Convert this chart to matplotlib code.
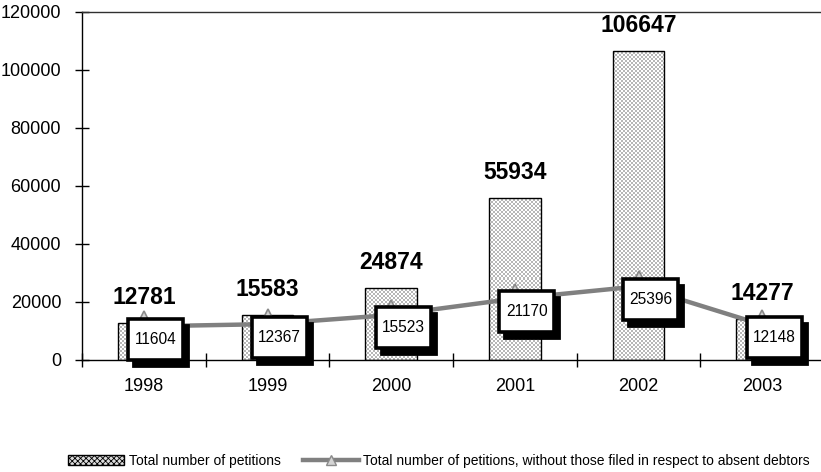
import matplotlib
matplotlib.use("Agg")
import matplotlib.pyplot as plt
import matplotlib.transforms as mtransforms
from matplotlib.patches import Rectangle, Patch
from matplotlib.lines import Line2D
import numpy as np

years = ["1998", "1999", "2000", "2001", "2002", "2003"]
total = [12781, 15583, 24874, 55934, 106647, 14277]
without_absent = [11604, 12367, 15523, 21170, 25396, 12148]
yticks = [0, 20000, 40000, 60000, 80000, 100000, 120000]
bar_label = "Total number of petitions"
line_label = "Total number of petitions, without those filed in respect to absent debtors"

plt.rcParams['font.family'] = ['Liberation Sans', 'DejaVu Sans']
plt.rcParams['hatch.linewidth'] = 0.6

fig = plt.figure(figsize=(8.21, 4.72), dpi=100)
ax = fig.add_axes([82/821, 1-360/472, (824-82)/821, (360-12)/472])

x = np.arange(len(years))
bw = 0.42
bars = ax.bar(x, total, width=bw, color='white', linewidth=0, zorder=2)
ax.bar(x, total, width=bw, fill=False, edgecolor='black', linewidth=1, zorder=2.2)

ax.set_xlim(-0.5, len(years) - 0.5)
ax.set_ylim(0, 120000)

# checker fill inside each bar
px_per_x = 742 / len(years)
px_per_y = 348 / 120000
for b in bars:
    x0, y0 = b.get_x(), b.get_y()
    w, h = b.get_width(), b.get_height()
    nx = max(1, int(round(w * px_per_x / 2)))
    ny = max(1, int(round(h * px_per_y / 2)))
    chk = (np.indices((ny, nx)).sum(axis=0) % 2).astype(float)
    img = np.where(chk[..., None] > 0, np.array([0.72, 0.72, 0.72]), np.array([1.0, 1.0, 1.0]))
    im = ax.imshow(img, extent=(x0, x0 + w, y0, y0 + h), aspect='auto',
                   interpolation='nearest', zorder=2.1)
    im.set_clip_path(b)

ax.plot(x, without_absent, color='#808080', lw=3.2, marker='^', ms=22,
        mfc='#d4d4d4', mec='#8a8a8a', mew=1.2, zorder=3)

# bar value labels
for xi, v in zip(x, total):
    ax.annotate(str(v), (xi, v), xytext=(0, 19), textcoords='offset pixels',
                ha='center', va='baseline', fontsize=16.5, fontweight='bold', zorder=5)

# boxed line labels with shadow
bw_px, bh_px = 55, 41
dx, dy = 12, -13
for xi, v in zip(x, without_absent):
    trans = mtransforms.Affine2D() + mtransforms.ScaledTranslation(xi, v, ax.transData)
    shadow = Rectangle((dx - bw_px/2 + 5, dy - bh_px/2 - 6), bw_px, bh_px, transform=trans,
                       facecolor='black', edgecolor='black', lw=2, zorder=6, clip_on=False)
    box = Rectangle((dx - bw_px/2, dy - bh_px/2), bw_px, bh_px, transform=trans,
                    facecolor='white', edgecolor='black', lw=2.6, zorder=7, clip_on=False)
    ax.add_patch(shadow)
    ax.add_patch(box)
    ax.annotate(str(v), (xi, v), xytext=(dx, dy), textcoords='offset pixels',
                ha='center', va='center', fontsize=11.2, zorder=8)

ax.set_yticks(yticks)
ax.set_yticklabels([str(t) for t in yticks], fontsize=13)
ax.set_xticks(x)
ax.set_xticklabels(years, fontsize=13)
ax.tick_params(axis='x', which='major', length=0, pad=13)
ax.set_xticks(np.arange(-0.5, len(years), 1.0), minor=True)
ax.tick_params(axis='x', which='minor', direction='inout', length=10, width=1)
ax.tick_params(axis='y', direction='inout', length=10, width=1, pad=10)
ax.spines['right'].set_visible(False)
for s in ['left', 'bottom', 'top']:
    ax.spines[s].set_linewidth(1)
ax.spines['top'].set_color('#303030')

handles = [Patch(facecolor='#dcdcdc', edgecolor='black', hatch='xxxxxx', lw=1),
           Line2D([], [], color='#808080', lw=3.2, marker='^', ms=7, mfc='#d4d4d4', mec='#8a8a8a')]
fig.legend(handles, [bar_label, line_label], loc='center', bbox_to_anchor=(0.535, 0.024),
           ncol=2, frameon=False, fontsize=10, handlelength=4.0, handleheight=0.7,
           handletextpad=0.35, columnspacing=1.6, borderaxespad=0, borderpad=0)

fig.savefig("out.png", dpi=100)
